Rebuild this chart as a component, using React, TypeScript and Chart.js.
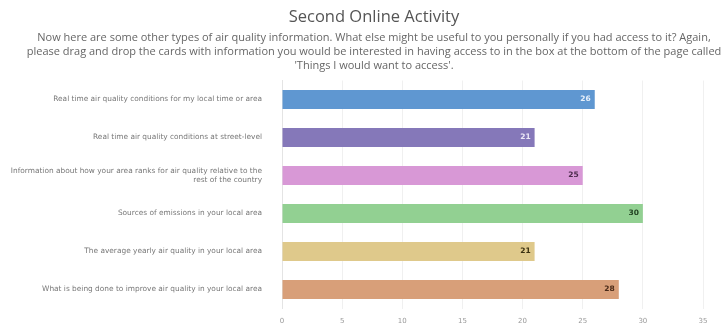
import React, { useEffect, useRef } from "react";
import { Chart, registerables } from "chart.js";

Chart.register(...registerables);

const categories: (string | string[])[] = [
  "Real time air quality conditions for my local time or area",
  "Real time air quality conditions at street-level",
  ["Information about how your area ranks for air quality relative to the", "rest of the country"],
  "Sources of emissions in your local area",
  "The average yearly air quality in your local area",
  "What is being done to improve air quality in your local area",
];
const values = [26, 21, 25, 30, 21, 28];
const barColors = ["#5f97d1", "#8578b9", "#d898d6", "#92d092", "#dfc98b", "#d89f79"];
const labelColors = ["#e8f0fa", "#ece8f6", "#4a2a4a", "#1f3f1f", "#3a3010", "#4a2a18"];
const titleText = "Second Online Activity";
const subtitleLines = [
  "Now here are some other types of air quality information. What else might be useful to you personally if you had access to it? Again,",
  "please drag and drop the cards with information you would be interested in having access to in the box at the bottom of the page called",
  "'Things I would want to access'.",
];

const valueLabels = {
  id: "valueLabels",
  afterDatasetsDraw(chart: any) {
    const { ctx } = chart;
    const meta = chart.getDatasetMeta(0);
    ctx.save();
    ctx.font = "bold 7.5px 'DejaVu Sans'";
    ctx.textAlign = "right";
    ctx.textBaseline = "middle";
    meta.data.forEach((bar: any, i: number) => {
      ctx.fillStyle = labelColors[i];
      ctx.fillText(String(values[i]), bar.x - 4, bar.y);
    });
    ctx.restore();
  },
};

const headerText = {
  id: "headerText",
  afterDraw(chart: any) {
    const { ctx } = chart;
    const cx = 374;
    ctx.save();
    ctx.textAlign = "center";
    ctx.textBaseline = "middle";
    ctx.fillStyle = "#555";
    ctx.font = "16.5px 'Open Sans'";
    ctx.fillText(titleText, cx, 17);
    ctx.fillStyle = "#666";
    ctx.font = "11px 'Open Sans'";
    subtitleLines.forEach((line, i) => {
      ctx.fillText(line, cx, 38 + i * 14);
    });
    ctx.restore();
  },
};

export default function App() {
  const ref = useRef<HTMLCanvasElement>(null);
  useEffect(() => {
    document.body.style.margin = "0";
    const chart = new Chart(ref.current!, {
      type: "bar",
      data: {
        labels: categories,
        datasets: [
          {
            data: values,
            backgroundColor: barColors,
            borderWidth: 0,
            barPercentage: 0.5,
            categoryPercentage: 1,
          },
        ],
      },
      options: {
        indexAxis: "y",
        animation: false,
        responsive: false,
        layout: { padding: { left: 4, right: 18, top: 80.5, bottom: 4 } },
        plugins: {
          legend: { display: false },
          tooltip: { enabled: false },
          title: { display: false },
          subtitle: { display: false },
        },
        scales: {
          x: {
            min: 0,
            max: 35,
            afterFit(axis: any) {
              axis.height = 16.5;
            },
            ticks: { stepSize: 5, color: "#999", font: { family: "'DejaVu Sans'", size: 7 }, padding: 8 },
            grid: { color: "#f0f0f0", drawTicks: false },
            border: { display: false },
          },
          y: {
            afterFit(axis: any) {
              axis.width = 278;
            },
            ticks: { color: "#777", font: { family: "'DejaVu Sans'", size: 7.4, lineHeight: 1.3 }, padding: 12 },
            grid: { display: false },
            border: { display: true, color: "#e4e4e4" },
          },
        },
      },
      plugins: [valueLabels, headerText],
    });
    return () => chart.destroy();
  }, []);
  return (
    <div style={{ width: 721, height: 329 }}>
      <canvas ref={ref} width={721} height={329} />
    </div>
  );
}
